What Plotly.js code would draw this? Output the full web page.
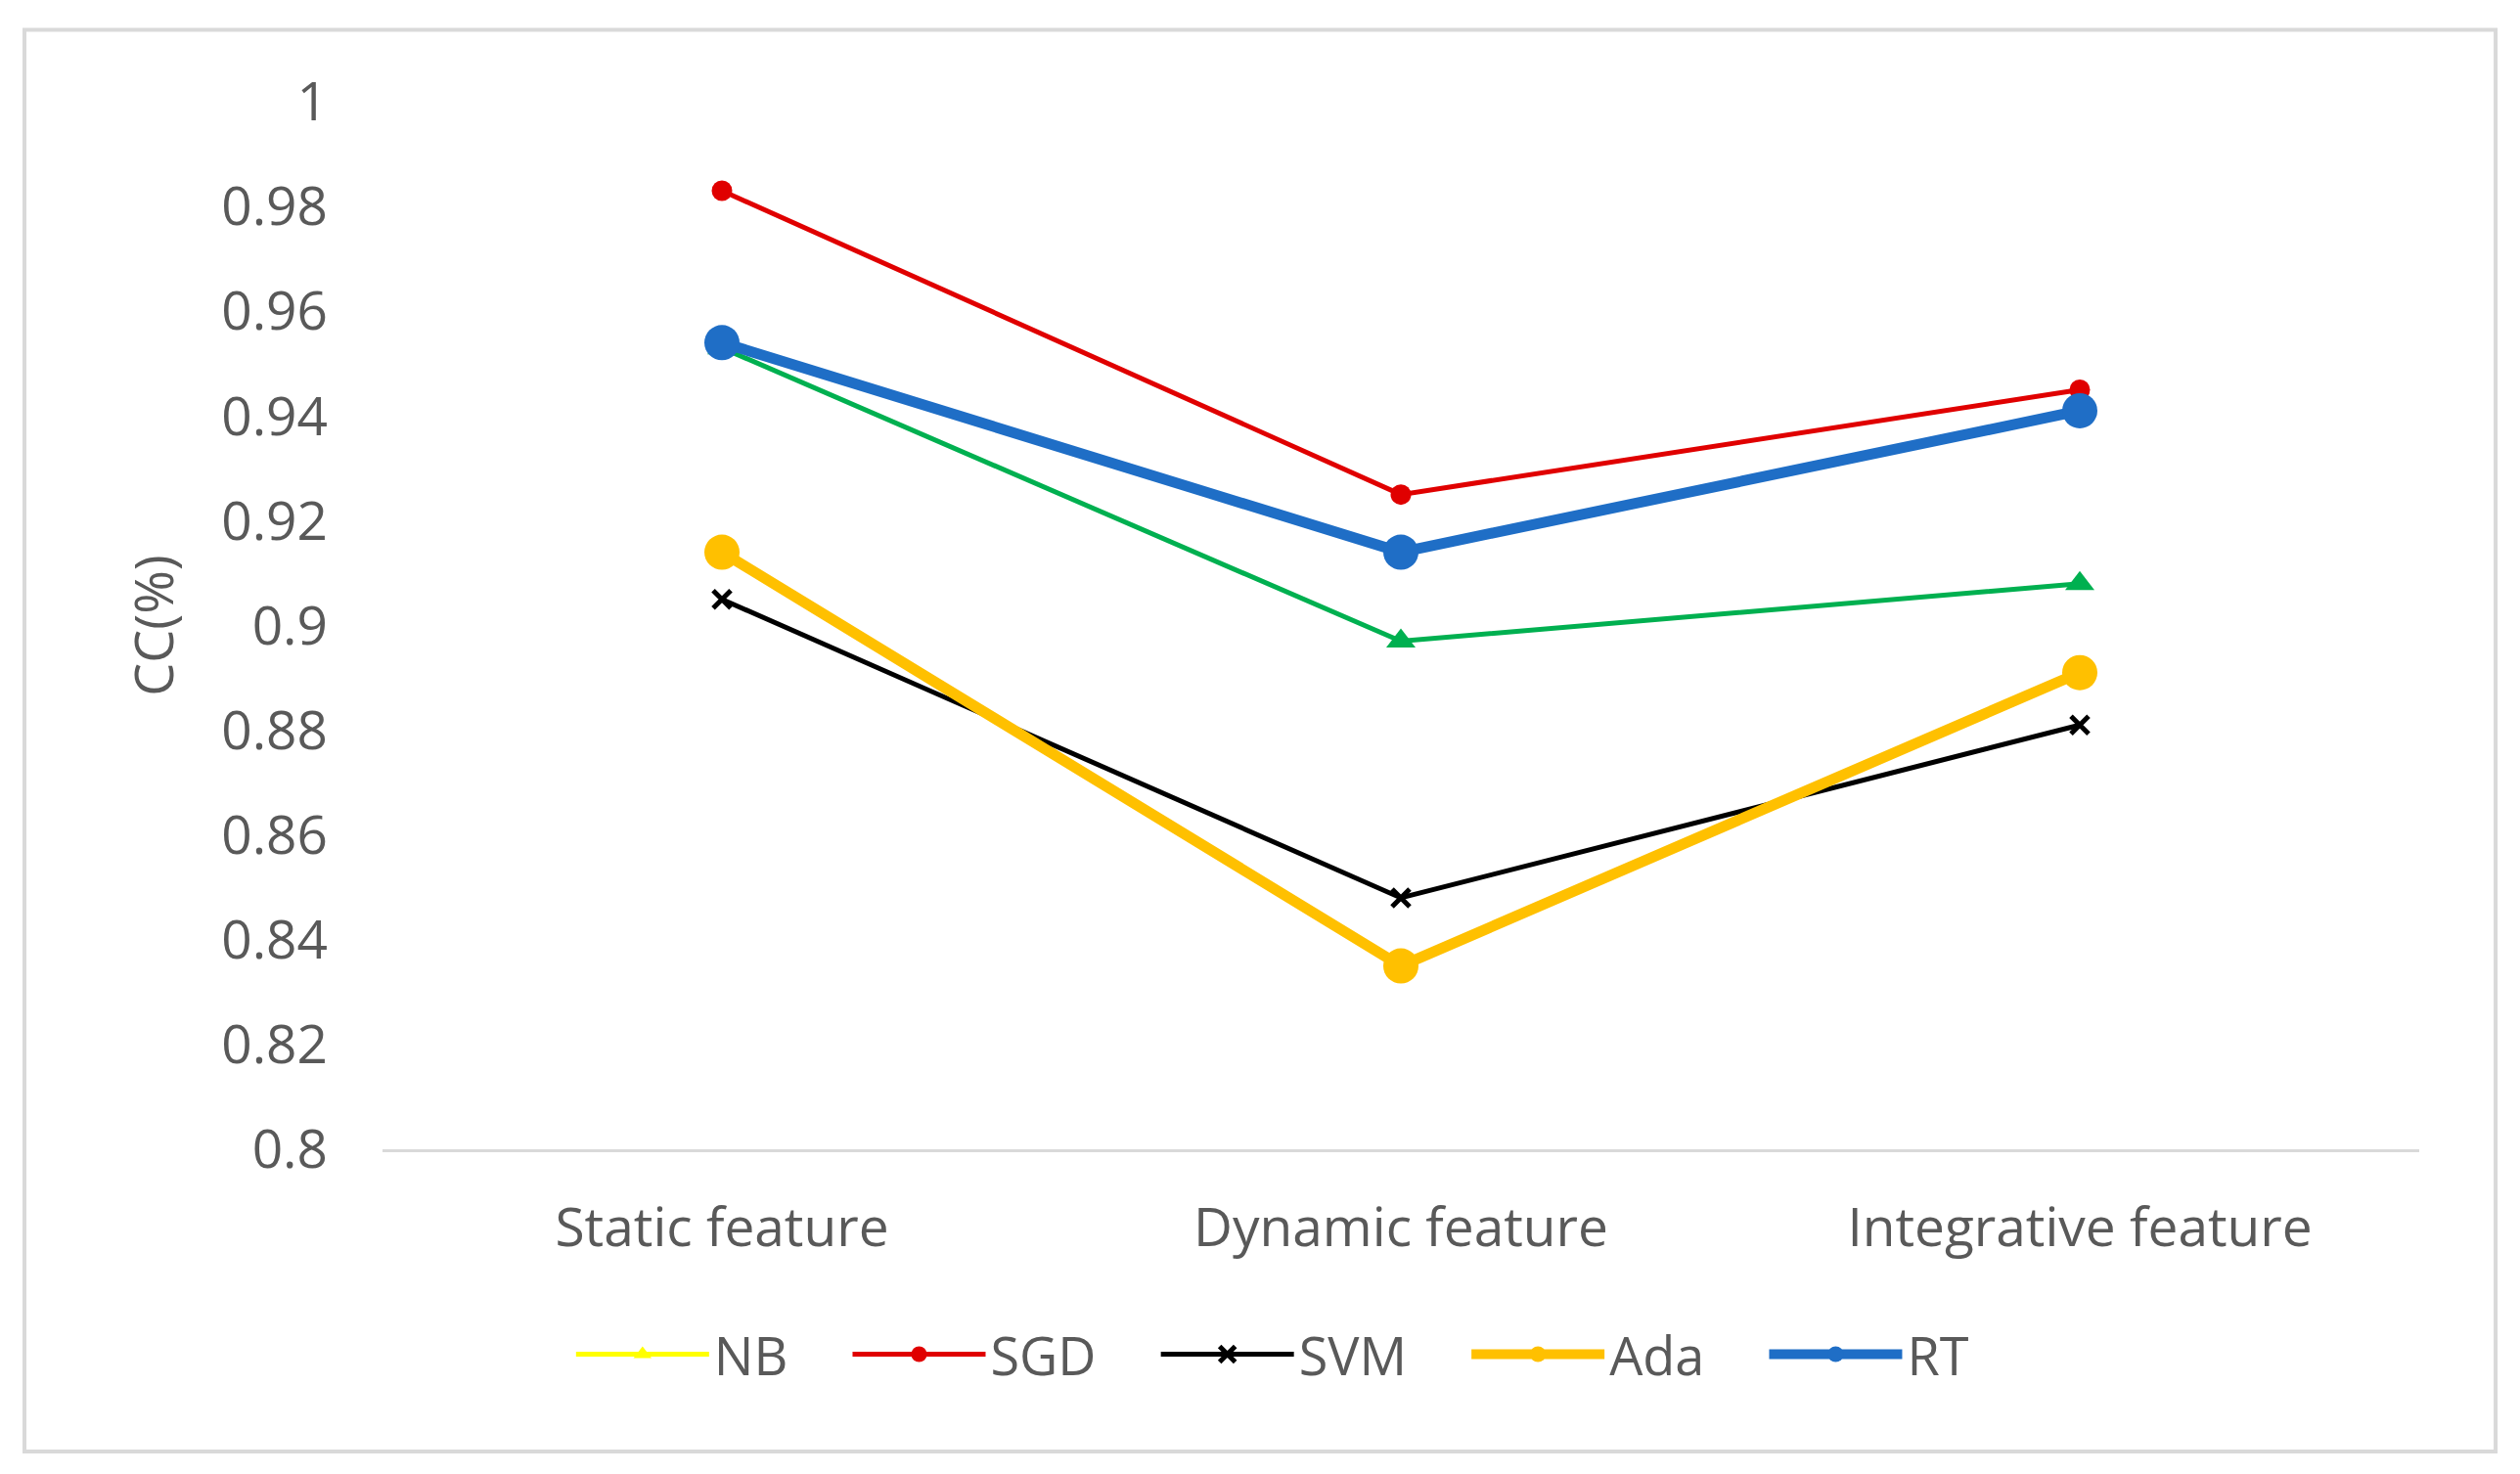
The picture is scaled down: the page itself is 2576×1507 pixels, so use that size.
<!DOCTYPE html>
<html>
<head>
<meta charset="utf-8">
<script src="https://cdn.plot.ly/plotly-3.0.1.min.js"></script>
<style>
  html, body { margin: 0; padding: 0; background: #ffffff; }
  #chart { width: 2576px; height: 1507px; }
</style>
</head>
<body>
<div id="chart"></div>
<script>
// categories on the x axis
var features = ['Static feature', 'Dynamic feature', 'Integrative feature'];

// CC values per classifier
var nb = [0.953, 0.897, 0.908];
var sgd = [0.983, 0.925, 0.945];
var svm = [0.905, 0.848, 0.881];
var ada = [0.914, 0.835, 0.891];
var rt = [0.954, 0.914, 0.941];

var yTicks = [0.8, 0.82, 0.84, 0.86, 0.88, 0.9, 0.92, 0.94, 0.96, 0.98, 1];
var yTickText = ['0.8', '0.82', '0.84', '0.86', '0.88', '0.9', '0.92', '0.94', '0.96', '0.98', '1'];

var CHART = document.getElementById('chart');

// extra room after each legend label, like the original legend
var pad = '\u00A0\u00A0\u00A0\u00A0';

// NB is drawn green in the plot but shown yellow in the legend
var nbLine = {
    x: features, y: nb, mode: 'lines+markers', name: 'NB',
    legendgroup: 'nb', showlegend: false,
    line: { color: '#00B050', width: 5 },
    marker: { symbol: 'triangle-up', size: 26, color: '#00B050' }
};
var nbKey = {
    x: [null], y: [null], mode: 'lines+markers', name: 'NB' + pad,
    legendgroup: 'nb',
    line: { color: '#FFFF00', width: 5 },
    marker: { symbol: 'triangle-up', size: 26, color: '#FFFF00' }
};
var sgdLine = {
    x: features, y: sgd, mode: 'lines+markers', name: 'SGD' + pad,
    line: { color: '#E00000', width: 5 },
    marker: { symbol: 'circle', size: 21, color: '#E00000' }
};
var svmLine = {
    x: features, y: svm, mode: 'lines+markers', name: 'SVM' + pad,
    line: { color: '#000000', width: 5 },
    marker: { symbol: 'x-thin', size: 18, color: '#000000', line: { color: '#000000', width: 5 } }
};
var adaLine = {
    x: features, y: ada, mode: 'lines+markers', name: 'Ada' + pad,
    line: { color: '#FFC000', width: 11 },
    marker: { symbol: 'circle', size: 36, color: '#FFC000' }
};
var rtLine = {
    x: features, y: rt, mode: 'lines+markers', name: 'RT',
    line: { color: '#1F6EC6', width: 11 },
    marker: { symbol: 'circle', size: 36, color: '#1F6EC6' }
};

var layout = {
    width: 2576,
    height: 1507,
    paper_bgcolor: '#ffffff',
    plot_bgcolor: '#ffffff',
    margin: { l: 391, r: 103, t: 104, b: 332 },
    font: { family: 'Open Sans, sans-serif', size: 54, color: '#595959' },
    showlegend: true,
    legend: {
        orientation: 'h',
        x: 0.437, xanchor: 'center',
        y: -0.196, yanchor: 'middle',
        itemwidth: 136,
        font: { size: 54, color: '#595959' },
        traceorder: 'normal'
    },
    xaxis: {
        type: 'category',
        range: [-0.5, 2.5],
        showgrid: false,
        zeroline: false,
        showline: true,
        linecolor: '#D9D9D9',
        linewidth: 3,
        ticks: '',
        ticklabelstandoff: 30,
        tickfont: { size: 55, color: '#595959' }
    },
    yaxis: {
        range: [0.8, 1.0],
        tickvals: yTicks,
        ticktext: yTickText,
        showgrid: false,
        zeroline: false,
        showline: false,
        ticks: '',
        ticklabelstandoff: 55,
        tickfont: { size: 55, color: '#595959' },
        automargin: true,
        title: { text: 'CC(%)', standoff: 31, font: { size: 54, color: '#595959' } }
    },
    shapes: [{
        type: 'rect', xref: 'paper', yref: 'paper',
        x0: -0.1758, x1: 1.0375, y0: -0.2884, y1: 1.0686,
        line: { color: '#D9D9D9', width: 4 },
        fillcolor: 'rgba(0,0,0,0)'
    }]
};

Plotly.newPlot(CHART, [nbLine, nbKey, sgdLine, svmLine, adaLine, rtLine], layout, { displayModeBar: false });
</script>
</body>
</html>
